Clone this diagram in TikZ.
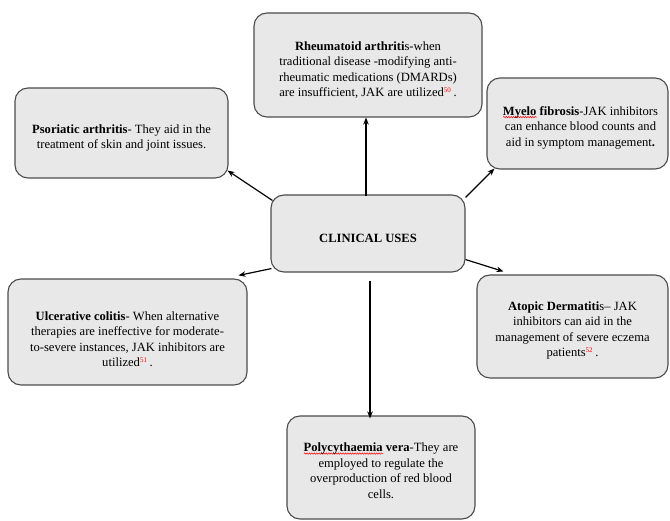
\documentclass[tikz,border=0pt]{standalone}
\usepackage{fontspec}
\setmainfont{Liberation Serif}
\usetikzlibrary{arrows.meta,decorations.pathmorphing}
\newlength\rwlen
\newsavebox\rwbox
\newcommand\redwave[1]{\sbox\rwbox{#1}\setlength\rwlen{\wd\rwbox}%
  \rlap{\raisebox{-3pt}[0pt][0pt]{\tikz\draw[red, line width=0.5pt, decorate, decoration={snake, amplitude=0.7pt, segment length=2.4pt}] (0pt,0pt) -- (\rwlen,0pt);}}\usebox\rwbox}
\newcommand\refnum[1]{\textsuperscript{\color{red}\fontsize{7}{8}\selectfont #1}\,}
\tikzset{
  box/.style={draw=black!70, line width=1.1pt, fill=black!9, rounded corners=13pt, inner sep=0pt},
  txt/.style={align=center, inner sep=0pt, font=\fontsize{12.6}{15.5}\selectfont},
  arr/.style={-{Stealth[length=7pt,width=5.5pt]}, line width=1.2pt, black}
}
\begin{document}
\begin{tikzpicture}[x=1pt,y=-1pt]
\useasboundingbox (0,0) rectangle (670,521);
% boxes
\node[box, minimum width=194, minimum height=77] (ctr) at (368,233.5) {};
\node[box, minimum width=228, minimum height=104] (top) at (368,65) {};
\node[box, minimum width=213, minimum height=90] (psor) at (121.5,133) {};
\node[box, minimum width=181, minimum height=91] (myelo) at (577.5,123.5) {};
\node[box, minimum width=239, minimum height=106] (ulc) at (127.5,332) {};
\node[box, minimum width=191, minimum height=103] (atop) at (572.5,326.5) {};
\node[box, minimum width=188, minimum height=103] (poly) at (381,467.5) {};
% texts
\node[txt] (ctrt) at ([yshift=-5]ctr.center) {\textbf{CLINICAL USES}};
\node[txt] (topt) at ([yshift=-5]top.center) {\textbf{Rheumatoid arthriti}s-when\\traditional disease -modifying anti-\\rheumatic medications (DMARDs)\\are insufficient, JAK are utilized\refnum{50}.};
\node[txt] (psort) at ([yshift=-5]psor.center) {\textbf{Psoriatic arthritis}- They aid in the\\treatment of skin and joint issues.};
\node[txt] (myelot) at ([xshift=3,yshift=-4]myelo.center) {\textbf{\redwave{Myelo} fibrosis}-JAK inhibitors\\can enhance blood counts and\\aid in symptom management\textbf{.}};
\node[txt] (ulct) at ([yshift=-7]ulc.center) {\textbf{Ulcerative colitis}- When alternative\\therapies are ineffective for moderate-\\to-severe instances, JAK inhibitors are\\utilized\refnum{51}.};
\node[txt] (atopt) at ([yshift=-4]atop.center) {\textbf{Atopic Dermatiti}s-- JAK\\inhibitors can aid in the\\management of severe eczema\\patients\refnum{52}.};
\node[txt] (polyt) at ([yshift=-3]poly.center) {\textbf{\redwave{Polycythaemia} vera}-They are\\employed to regulate the\\overproduction of red blood\\cells.};
% connector end points
\coordinate (s1) at ([shift={(2,6)}]ctr.north west);
\coordinate (e1) at ([shift={(-1,-8)}]psor.south east);
\coordinate (s2) at ([shift={(0,3)}]ctr.north east);
\coordinate (e2) at ([shift={(8,-1)}]myelo.south west);
\coordinate (s3) at ([shift={(1,-4)}]ctr.south west);
\coordinate (e3) at ([shift={(-9,-3)}]ulc.north east);
\coordinate (s4) at ([shift={(0,-13)}]ctr.south east);
\coordinate (e4) at ([shift={(27,-3)}]atop.north west);
\coordinate (s5) at ([shift={(2,8)}]ctr.south);
\coordinate (s6) at ([shift={(-2,2)}]ctr.north);
% connectors
\draw[arr] (s6) -- (s6 |- top.south);
\draw[arr] (s1) -- (e1);
\draw[arr] (s2) -- (e2);
\draw[arr] (s3) -- (e3);
\draw[arr] (s4) -- (e4);
\draw[arr] (s5) -- ([yshift=-3]s5 |- poly.north);
\end{tikzpicture}
\end{document}
